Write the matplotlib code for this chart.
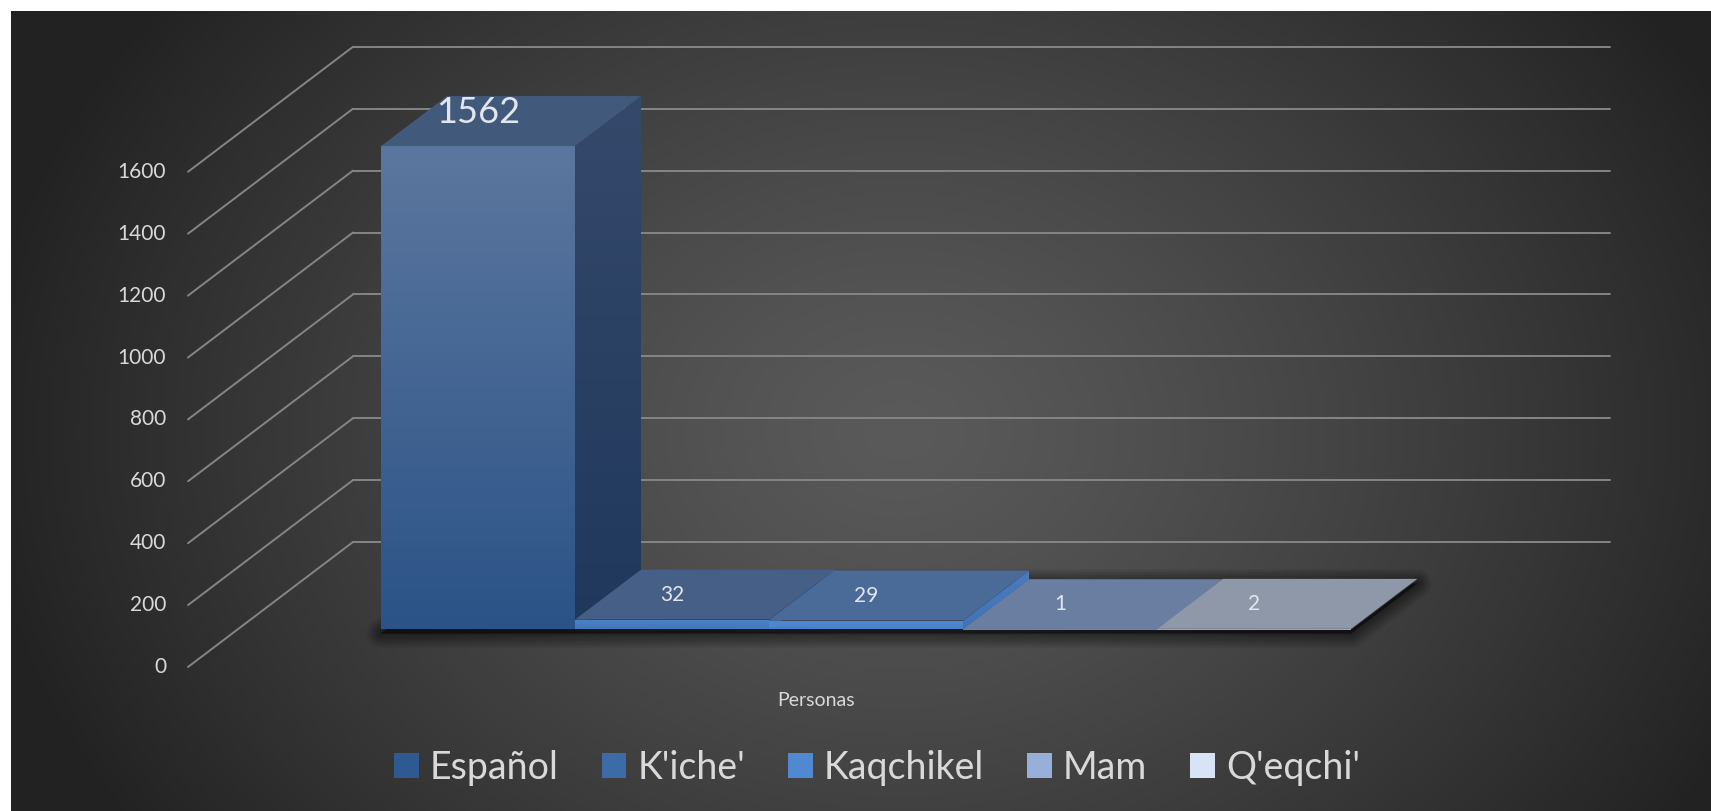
import numpy as np
import matplotlib
matplotlib.use("Agg")
import matplotlib.pyplot as plt
from matplotlib.patches import Polygon, Patch
from matplotlib.colors import LinearSegmentedColormap

plt.rcParams['font.family'] = ['Lato', 'DejaVu Sans']

# ---------------- data ----------------
category = "Personas"
series = ["Español", "K'iche'", "Kaqchikel", "Mam", "Q'eqchi'"]
values = [1562, 32, 29, 1, 2]
yticks = [0, 200, 400, 600, 800, 1000, 1200, 1400, 1600]

# ---------------- styles ----------------
legend_colors = ['#2f5a91', '#3d6ba8', '#5089d2', '#98afd9', '#d8e3f5']
front_top = ['#5c779f', '#4f82c6', '#5389d0', '#7d92bb', '#aab5c8']
front_bot = ['#2b5387', '#4277bb', '#4a80c8', '#6d83ab', '#9aa5b8']
top_cols = ['#41597b', '#465f87', '#4a6a98', '#6a7ea1', '#8e98a9']
side_top = ['#35496b', '#3f6aa6', '#4a7bbf', '#56698c', '#6e7889']
side_bot = ['#1f385c', '#36609a', '#4273b5', '#4a5c7e', '#5f6a7c']
label_sizes = [26, 15, 15, 15, 15]
text_col = '#d9d9d9'
grid_col = '#858585'

W, H = 1711, 811
fig = plt.figure(figsize=(W / 100, H / 100), dpi=100, facecolor='white')

# ---------------- background (radial gradient) ----------------
bg = fig.add_axes([11 / W, 0, (W - 11) / W, (H - 11) / H])
bg.axis('off')
yy, xx = np.mgrid[11:H, 11:W]
cx, cy, rx, ry = 900.0, 430.0, 930.0, 720.0
t = np.sqrt(((xx - cx) / rx) ** 2 + ((yy - cy) / ry) ** 2)
t = np.clip(t, 0, 1) ** 1.25
c0, c1 = 0x5a / 255, 0x22 / 255
img = c0 + (c1 - c0) * t
bg.imshow(np.dstack([img, img, img]), aspect='auto', interpolation='bilinear',
          extent=[0, 1, 0, 1])
bg.set_xlim(0, 1)
bg.set_ylim(0, 1)

# ---------------- main axes with oblique projection ----------------
FX0, FY0 = 188.0, 144.0          # pixel position of front-plane origin
SER_PX = 194.0                   # pixels per series slot
VAL_PX = 61.9 / 200.0            # pixels per value unit
DEP_DX, DEP_DY = 165.0, 125.0    # pixel offset of full wall depth
margin = 0.74                    # empty slot margin on each side
axis_w = len(series) + 2 * margin
d0, d1 = 0.3, 0.7                # bar depth range

ax = fig.add_axes([0, 0, 1, 1])
ax.axis('off')
ax.patch.set_alpha(0)
xlim = (-FX0 / SER_PX, (W - FX0) / SER_PX)
ylim = (-FY0 / VAL_PX, (H - FY0) / VAL_PX)
ddx = DEP_DX / SER_PX
ddy = DEP_DY / VAL_PX


def P(x, v, d):
    return (x + d * ddx, v + d * ddy)


# gridlines: side wall diagonals + back wall horizontals, tick labels
for tk in yticks:
    a, b = P(0, tk, 0), P(0, tk, 1)
    c = P(axis_w, tk, 1)
    ax.plot([a[0], b[0]], [a[1], b[1]], color=grid_col, lw=1.4, zorder=1,
            solid_capstyle='round')
    ax.plot([b[0], c[0]], [b[1], c[1]], color=grid_col, lw=1.4, zorder=1,
            solid_capstyle='round')
    ax.annotate(str(tk), xy=a, xytext=(-22 * 0.72, 0), textcoords='offset points',
                ha='right', va='center', fontsize=15, color=text_col)

# shadow under bars footprint
xs, xe = margin, margin + len(series)
shift = -4 / VAL_PX
foot = [P(xs, shift, d0), P(xe, shift, d0), P(xe, shift, d1), P(xs, shift, d1)]
for k in range(10):
    ax.add_patch(Polygon(foot, closed=True, facecolor=(0, 0, 0, 0.05),
                         edgecolor=(0, 0, 0, 0.05), lw=1 + 2.2 * k,
                         joinstyle='round', zorder=2))


def grad_fill(poly, ctop, cbot, vmin, vmax, z):
    patch = Polygon(poly, closed=True, transform=ax.transData, facecolor='none',
                    edgecolor='none')
    ax.add_patch(patch)
    xsr = [p[0] for p in poly]
    cmap = LinearSegmentedColormap.from_list('g', [cbot, ctop])
    g = np.linspace(0, 1, 256).reshape(-1, 1)
    im = ax.imshow(g, cmap=cmap, origin='lower', aspect='auto',
                   extent=[min(xsr), max(xsr), vmin, vmax], zorder=z,
                   interpolation='bilinear')
    im.set_clip_path(patch)


for i, v in enumerate(values):
    x0, x1 = margin + i, margin + i + 1
    z = 3 + i
    front = [P(x0, 0, d0), P(x1, 0, d0), P(x1, v, d0), P(x0, v, d0)]
    top = [P(x0, v, d0), P(x1, v, d0), P(x1, v, d1), P(x0, v, d1)]
    side = [P(x1, 0, d0), P(x1, 0, d1), P(x1, v, d1), P(x1, v, d0)]
    # side face
    grad_fill(side, side_top[i], side_bot[i], P(0, 0, d0)[1], P(0, v, d1)[1], z)
    # front face
    if v > 5:
        grad_fill(front, front_top[i], front_bot[i], front[0][1], front[2][1], z + 0.1)
    else:
        ax.add_patch(Polygon(front, closed=True, facecolor=front_bot[i],
                             edgecolor='none', zorder=z + 0.1))
    # top face
    ax.add_patch(Polygon(top, closed=True, facecolor=top_cols[i],
                         edgecolor='none', zorder=z + 0.2))

for i, v in enumerate(values):
    xc = margin + i + 0.5
    px, _ = P(xc, v, d0)
    _, py = P(xc, v, 0.45)
    ax.annotate(str(v), xy=(px, py), xytext=(0, 3 if i == 0 else 0),
                textcoords='offset points', ha='center', va='baseline',
                fontsize=label_sizes[i], color='#e2e6ee', zorder=20)

# category label
ax.annotate(category, xy=P(axis_w / 2, 0, 0), xytext=(0, -33 * 0.72),
            textcoords='offset points', ha='center', va='center',
            fontsize=14, color=text_col)

ax.set_xlim(*xlim)
ax.set_ylim(*ylim)

# legend
handles = [Patch(facecolor=c, edgecolor='none') for c in legend_colors]
fig.legend(handles, series, loc='center', bbox_to_anchor=(877 / W, 43 / H),
           ncol=5, frameon=False, fontsize=27, handlelength=0.65,
           handleheight=0.65, handletextpad=0.3, columnspacing=1.15,
           labelcolor=text_col)

fig.savefig('out.png', dpi=100, facecolor='white')
